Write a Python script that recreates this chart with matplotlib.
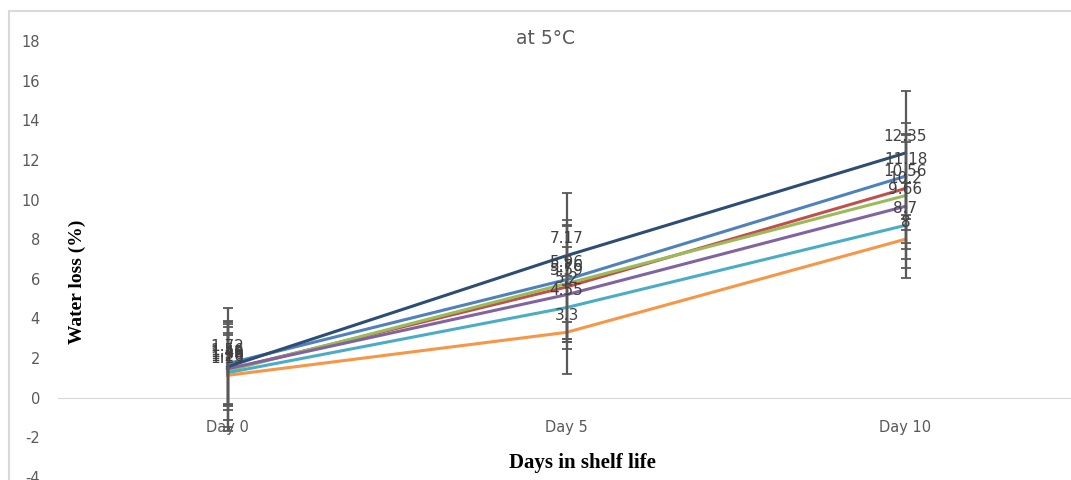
import numpy as np
import matplotlib.pyplot as plt
from matplotlib.patches import Rectangle

plt.rcParams['axes.unicode_minus'] = False

# カテゴリと系列データ
days = ['Day 0', 'Day 5', 'Day 10']
s1 = [1.72, 5.96, 11.18]
s2 = [1.42, 5.59, 10.56]
s3 = [1.36, 5.76, 10.2]
s4 = [1.46, 5.2, 9.66]
s5 = [1.26, 4.55, 8.7]
s6 = [1.13, 3.3, 8.0]
s7 = [1.56, 7.17, 12.35]

# 誤差（標準偏差）
e1 = [2.1, 3.0, 2.7]
e2 = [3.1, 3.15, 2.74]
e3 = [2.5, 4.55, 2.7]
e4 = [1.8, 2.4, 3.6]
e5 = [1.9, 1.6, 2.15]
e6 = [2.6, 0.5, 1.0]
e7 = [2.0, 1.5, 3.12]

series = [s1, s2, s3, s4, s5, s6, s7]
errors = [e1, e2, e3, e4, e5, e6, e7]
colors = ['#4F81BD', '#C0504D', '#9BBB59', '#8064A2', '#4BACC6', '#F79646', '#2C4D75']

fig = plt.figure(figsize=(10.71, 4.8), dpi=100)
ax = fig.add_axes([58 / 1071, 3 / 480, 1013 / 1071, 436 / 480])

x = np.arange(len(days))
for vals, c in zip(series, colors):
    ax.plot(x, vals, color=c, lw=2.2, zorder=3)
for vals, err in zip(series, errors):
    ax.errorbar(x, vals, yerr=err, fmt='none', ecolor='#595959', elinewidth=1.6,
                capsize=3.5, capthick=1.3, zorder=4)
for vals in series:
    for xi, v in zip(x, vals):
        ax.annotate(f'{v:g}', (xi, v), xytext=(0, 12), textcoords='offset points',
                    ha='center', va='center', fontsize=11, color='#404040', zorder=5)

ax.set_xlim(-0.5, 2.488)
ax.set_ylim(-4, 18)
ax.set_yticks(np.arange(-4, 19, 2))
ax.set_xticks(x)
ax.set_xticklabels(days)

for s in ['top', 'right', 'left']:
    ax.spines[s].set_visible(False)
ax.spines['bottom'].set_position(('data', 0))
ax.spines['bottom'].set_color('#D9D9D9')
ax.tick_params(axis='x', length=0, pad=16, labelsize=10.5, labelcolor='#595959')
ax.tick_params(axis='y', length=0, pad=13, labelsize=10.5, labelcolor='#595959')

fig.text(545 / 1071, 1 - 38 / 480, 'at 5°C', ha='center', va='center',
         fontsize=13.5, color='#595959')
fig.text(77 / 1071, 1 - 282 / 480, 'Water loss (%)', rotation=90, ha='center', va='center',
         fontsize=14, fontweight='bold', family='Liberation Serif')
fig.text(582 / 1071, 1 - 463 / 480, 'Days in shelf life', ha='center', va='center',
         fontsize=15, fontweight='bold', family='Liberation Serif')

# 外枠
fig.patches.append(Rectangle((8.5 / 1071, -0.1), 1.2, 1 - 11 / 480 + 0.1, transform=fig.transFigure,
                             fill=False, edgecolor='#D9D9D9', lw=1.5, zorder=0))

fig.savefig('out.png', dpi=100, facecolor='white')
